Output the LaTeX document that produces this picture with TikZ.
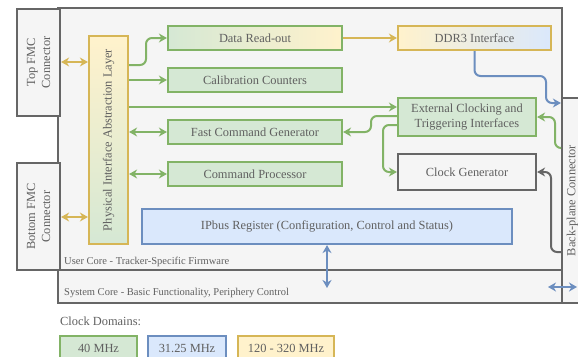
\documentclass[tikz,border=0pt]{standalone}
\usepackage{fontspec}
\setmainfont{Liberation Serif}
\usetikzlibrary{arrows.meta}
\definecolor{gline}{HTML}{82B366}
\definecolor{gfill}{HTML}{D5E8D4}
\definecolor{bline}{HTML}{6C8EBF}
\definecolor{bfill}{HTML}{DAE8FC}
\definecolor{yline}{HTML}{D6B656}
\definecolor{yfill}{HTML}{FFF2CC}
\definecolor{kline}{HTML}{666666}
\definecolor{kfill}{HTML}{F5F5F5}
\definecolor{txt}{HTML}{606060}
\tikzset{
  every node/.style={text=txt, font=\fontsize{12.4}{15}\selectfont},
  blk/.style={draw, line width=2.2pt, inner sep=0pt, align=center},
  gblk/.style={blk, draw=gline, fill=gfill},
  bblk/.style={blk, draw=bline, fill=bfill},
  yblk/.style={blk, draw=yline, fill=yfill},
  kblk/.style={blk, draw=kline, fill=kfill},
  conn/.style={line width=2pt, rounded corners=6pt},
  tip/.style={-{Stealth[length=8pt,width=9pt,inset=2.5pt]}},
  tips/.style={{Stealth[length=8pt,width=9pt,inset=2.5pt]}-{Stealth[length=8pt,width=9pt,inset=2.5pt]}},
  garr/.style={conn, draw=gline, tip},
  garrs/.style={conn, draw=gline, tips},
  barr/.style={conn, draw=bline, tip},
  barrs/.style={conn, draw=bline, tips},
  yarr/.style={conn, draw=yline, tip},
  yarrs/.style={conn, draw=yline, tips},
  karr/.style={conn, draw=kline, tip},
  small/.style={font=\fontsize{10.5}{12}\selectfont, anchor=west, inner sep=0pt},
}
\begin{document}
\begin{tikzpicture}[x=1pt, y=-1pt]
\path[use as bounding box] (0,0) rectangle (578,356);
\clip (0,0) rectangle (578,356);

% firmware cores
\node[kblk, minimum width=504pt, minimum height=262pt] (user) at (310,139) {};
\node[kblk, minimum width=504pt, minimum height=33pt] (sys) at (310,286.5) {};
\node[small] (usertxt) at (64,262) {User Core - Tracker-Specific Firmware};
\node[small] (systxt) at (64,293) {System Core - Basic Functionality, Periphery Control};

% connectors
\node[kblk, rotate=90, minimum width=107pt, minimum height=43pt] (tfmc) at (38.5,62.5) {Top FMC\\Connector};
\node[kblk, rotate=90, minimum width=107pt, minimum height=43pt] (bfmc) at (38.5,216.5) {Bottom FMC\\Connector};
\node[kblk, rotate=90, minimum width=205pt, minimum height=21pt] (bp) at (572.5,200.5) {Back-plane Connector};

% firmware blocks
\node[blk, draw=yline, top color=yfill, bottom color=gfill, rotate=90, minimum width=208pt, minimum height=39pt] (phy) at (108.5,140) {Physical Interface Abstraction Layer};
\node[blk, draw=gline, left color=gfill, right color=yfill, minimum width=174pt, minimum height=24pt] (dro) at (255,38) {Data Read-out};
\node[gblk, minimum width=174pt, minimum height=24pt] (cal) at (255,80) {Calibration Counters};
\node[gblk, minimum width=174pt, minimum height=24pt] (fcg) at (255,132) {Fast Command Generator};
\node[gblk, minimum width=174pt, minimum height=24pt] (cmd) at (255,174) {Command Processor};
\node[blk, draw=yline, left color=yfill, right color=bfill, minimum width=153pt, minimum height=24pt] (ddr) at (474.5,38) {DDR3 Interface};
\node[gblk, minimum width=138pt, minimum height=38pt] (ext) at (467,117) {External Clocking and\\Triggering Interfaces};
\node[kblk, minimum width=138pt, minimum height=36pt] (clk) at (467,172) {Clock Generator};
\node[bblk, minimum width=370pt, minimum height=35pt] (ipb) at (327,226.5) {IPbus Register (Configuration, Control and Status)};

% data paths
\draw[yarrs] (tfmc.south |- 0,62) -- (phy.north |- 0,62);
\draw[yarrs] (bfmc.south |- 0,217) -- (phy.north |- 0,217);
\draw[garr] (phy.south |- 0,65) -- (146,65) -- (146,38) -- (dro.west);
\draw[garr] (phy.south |- cal.west) -- (cal.west);
\draw[garr] (phy.south |- 0,107) -- (ext.west |- 0,107);
\draw[garrs] (phy.south |- fcg.west) -- (fcg.west);
\draw[garrs] (phy.south |- cmd.west) -- (cmd.west);
\draw[yarr] (dro.east) -- (ddr.west);
\draw[barr] (ddr.south) -- (474.5,76) -- (546,76) -- (546,103) -- (bp.north |- 0,103);
\draw[garr] (ext.west |- 0,116) -- (371,116) -- (371,132) -- (fcg.east);
\draw[garr] (ext.west |- 0,125) -- (383,125) -- (383,172) -- (clk.west);
\draw[garr] (bp.north |- 0,148) -- (555,148) -- (555,117) -- (ext.east);
\draw[karr] (bp.north |- 0,252) -- (551,252) -- (551,172) -- (clk.east);
\coordinate (ipbdown) at (327,288);
\draw[barrs] (ipb.south) -- (ipbdown);
\coordinate (bpl) at (548,287);
\coordinate (bpr) at (577,287);
\draw[barrs] (bpl) -- (bpr);

% clock domain legend
\node[anchor=west, inner sep=0pt] (legtitle) at (60,321) {Clock Domains:};
\node[gblk, minimum width=77pt, minimum height=24pt] (l40) at (98.5,348) {40 MHz};
\node[bblk, minimum width=78pt, minimum height=24pt] (l31) at (187,348) {31.25 MHz};
\node[yblk, minimum width=96pt, minimum height=24pt] (l120) at (286,348) {120 - 320 MHz};
\end{tikzpicture}
\end{document}
